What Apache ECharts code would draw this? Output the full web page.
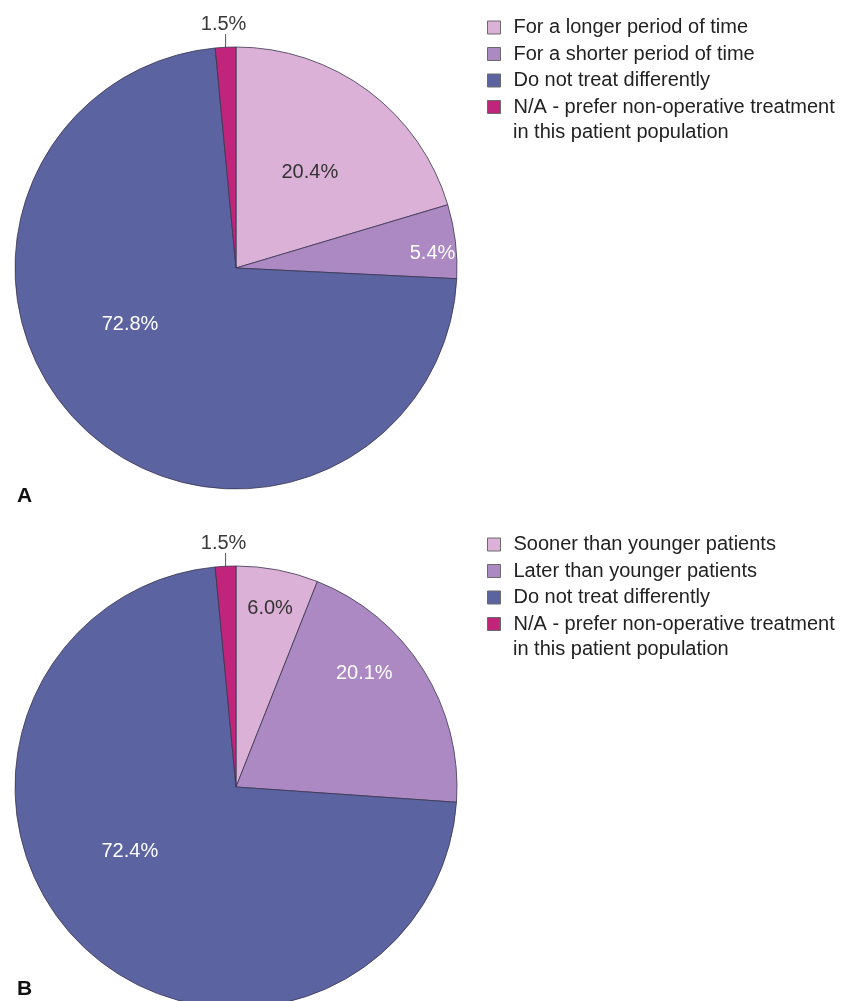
<!DOCTYPE html>
<html>
<head>
<meta charset="utf-8">
<title>Treatment timing in older patients</title>
<script src="https://cdn.jsdelivr.net/npm/echarts@6/dist/echarts.min.js"></script>
<style>
  html, body { margin: 0; padding: 0; background: #ffffff; }
  #chart { width: 859px; height: 1001px; }
</style>
</head>
<body>
<div id="chart"></div>
<script>
// Panel A: duration of treatment
const categoriesA = [
  'For a longer period of time',
  'For a shorter period of time',
  'Do not treat differently',
  'N/A - prefer non-operative treatment\nin this patient population'
];
const valuesA = [20.4, 5.4, 72.8, 1.5];

// Panel B: timing of treatment
const categoriesB = [
  'Sooner than younger patients',
  'Later than younger patients',
  'Do not treat differently',
  'N/A - prefer non-operative treatment\nin this patient population'
];
const valuesB = [6.0, 20.1, 72.4, 1.5];

const panelLetters = ['A', 'B'];

// Styling and layout
const sliceColors = ['#dcb1d7', '#ad89c3', '#5b64a0', '#c0247b'];
const labelColors = ['#333333', '#ffffff', '#ffffff', '#333333'];
const FONT = '"Liberation Sans", Arial, sans-serif';
const R = 221;
const centers = [[236, 268], [236, 787]];
const legendLeft = 487;
const legendTops = [15, 532];
const legendRowPitch = 26.5;
const letterTops = [486, 979];
// label placement inside slices: [angle clockwise from 12 o'clock (deg), distance from centre (px)]
const labelPolar = [
  [[37.6, 121], [85.9, 197], [242, 120]],
  [[10.8, 182], [48.6, 171], [238.9, 124]]
];

const panels = [
  { names: categoriesA, values: valuesA },
  { names: categoriesB, values: valuesB }
];

const chart = echarts.init(document.getElementById('chart'), null, { renderer: 'canvas' });

function sliceAngles(values, idx) {
  const total = values.reduce((a, b) => a + b, 0);
  let before = 0;
  for (let k = 0; k < idx; k++) before += values[k];
  return [before / total * 360, (before + values[idx]) / total * 360];
}

const series = panels.map((p, s) => ({
  type: 'pie',
  center: centers[s],
  radius: [0, R],
  startAngle: 90,
  clockwise: true,
  avoidLabelOverlap: false,
  animation: false,
  silent: true,
  itemStyle: { borderColor: '#3a3550', borderWidth: 0.8 },
  label: {
    show: true,
    position: 'inside',
    fontFamily: FONT,
    fontSize: 20,
    formatter: (d) => d.value.toFixed(1) + '%'
  },
  labelLine: { show: false },
  data: p.names.map((n, i) => {
    const item = {
      name: n,
      value: p.values[i],
      itemStyle: { color: sliceColors[i] },
      label: { color: labelColors[i] }
    };
    if (i === 3) {
      item.label.position = 'outside';
      item.label.color = '#3a3a3a';
      item.labelLine = { show: true, length: 8, length2: 0, lineStyle: { color: '#555', width: 1 } };
    }
    return item;
  })
}));

function labelLayout(params) {
  const s = params.seriesIndex, i = params.dataIndex;
  const c = centers[s];
  if (i < 3) {
    const pl = labelPolar[s][i];
    const a = pl[0] * Math.PI / 180;
    return {
      x: c[0] + pl[1] * Math.sin(a),
      y: c[1] - pl[1] * Math.cos(a),
      align: 'center',
      verticalAlign: 'middle'
    };
  }
  // small slice: value sits above the pie with a vertical leader
  const ang = sliceAngles(panels[s].values, i).map(v => v * Math.PI / 180);
  const xm = c[0] + R * (Math.sin(ang[0]) + Math.sin(ang[1])) / 2;
  const top = c[1] - R;
  return {
    x: xm - 2,
    y: top - 23,
    align: 'center',
    verticalAlign: 'middle',
    labelLinePoints: [[xm, top + 3], [xm, top - 6], [xm, top - 13]]
  };
}
series.forEach(se => { se.labelLayout = labelLayout; });

const legends = panels.map((p, s) => ({
  orient: 'vertical',
  left: legendLeft,
  top: legendTops[s],
  padding: 0,
  itemWidth: 13,
  itemHeight: 13,
  itemGap: 1.5,
  icon: 'rect',
  selectedMode: false,
  seriesIndex: s,
  itemStyle: { borderColor: '#6a6a6a', borderWidth: 1 },
  textStyle: {
    fontFamily: FONT, fontSize: 20, color: '#222222', lineHeight: 25,
    rich: { t: { fontFamily: FONT, fontSize: 20, color: '#222222', lineHeight: 25, padding: [0, 0, 0, 8] } }
  },
  // only the first line sits beside the swatch; continuation lines are drawn below it
  formatter: (name) => '{t|' + name.split('\n')[0] + '}',
  data: p.names
}));

const graphics = [];
panelLetters.forEach((t, s) => {
  graphics.push({
    type: 'text',
    left: 17,
    top: letterTops[s],
    style: { text: t, fontFamily: FONT, fontSize: 21, fontWeight: 'bold', fill: '#111111' }
  });
});
panels.forEach((p, s) => {
  p.names.forEach((n, row) => {
    n.split('\n').slice(1).forEach((ln, k) => {
      graphics.push({
        type: 'text',
        left: legendLeft + 13 + 5 + 8,
        top: legendTops[s] + row * legendRowPitch + 25 + k * 25,
        style: { text: ln, fontFamily: FONT, fontSize: 20, fill: '#222222', lineHeight: 25 }
      });
    });
  });
});

chart.setOption({
  backgroundColor: '#ffffff',
  animation: false,
  legend: legends,
  series: series,
  graphic: graphics
});
</script>
</body>
</html>
